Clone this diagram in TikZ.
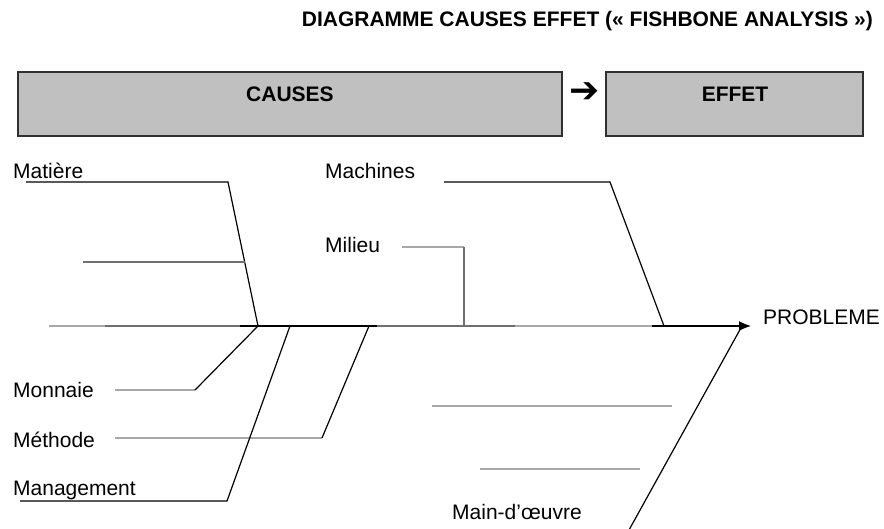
\documentclass[tikz,border=0pt]{standalone}
\usepackage{fontspec}
\setmainfont{Liberation Sans}
\newfontfamily\symfont{DejaVu Sans}
\usetikzlibrary{arrows.meta}
\definecolor{boxfill}{HTML}{C0C0C0}
\definecolor{boxline}{HTML}{303030}
\definecolor{lightln}{HTML}{A8A8A8}
\definecolor{midln}{HTML}{707070}
\tikzset{
  lbl/.style={inner sep=0pt, anchor=base west, font=\fontsize{21}{24}\selectfont},
  hdr/.style={inner sep=0pt, anchor=base, font=\fontsize{21}{24}\selectfont\bfseries},
  bone/.style={draw=black, line width=1.2pt},
  minor/.style={draw=lightln, line width=1.6pt},
  midbone/.style={draw=midln, line width=1.3pt},
  boxstyle/.style={draw=boxline, fill=boxfill, line width=2pt},
}
\begin{document}
\begin{tikzpicture}[x=1pt,y=-1pt]
\useasboundingbox (0,0) rectangle (884,529);
% title
\node[inner sep=0pt, anchor=base east, font=\fontsize{21}{24}\selectfont\bfseries] (title) at (873,27) {DIAGRAMME CAUSES EFFET (« FISHBONE ANALYSIS »)};
% header boxes
\draw[boxstyle] (18,72) rectangle (562,136);
\draw[boxstyle] (606,72) rectangle (863,136);
\node[hdr] (causes) at (290,102) {CAUSES};
\node[hdr] (effet) at (735,102) {EFFET};
\node[inner sep=0pt, anchor=center, font=\symfont\fontsize{36}{40}\selectfont\bfseries] (arr) at (585,93) {➔};
% spine coordinates
\coordinate (s0) at (49,326);
\coordinate (s1) at (105,326);
\coordinate (s2) at (240,326);
\coordinate (j1) at (258,326);
\coordinate (j2) at (290,326);
\coordinate (j3) at (369,326);
\coordinate (s3) at (377,326);
\coordinate (j4) at (464,326);
\coordinate (s4) at (515,326);
\coordinate (s5) at (652,326);
\coordinate (j5) at (664,326);
\coordinate (tip) at (751,326);
% spine
\draw[minor] (s0) -- (s1);
\draw[midbone] (s1) -- (s2);
\draw[bone] (s2) -- (s3);
\draw[midbone] (s3) -- (s4);
\draw[minor] (s4) -- (s5);
\draw[bone, -{Latex[length=12pt,width=10pt]}] (s5) -- (tip);
% labels
\node[lbl] (matiere) at (13,179) {Matière};
\node[lbl] (machines) at (325,179) {Machines};
\node[lbl] (milieu) at (325,253) {Milieu};
\node[lbl] (monnaie) at (13,397) {Monnaie};
\node[lbl] (methode) at (13,447) {Méthode};
\node[lbl] (management) at (13,495) {Management};
\node[lbl] (mainoeuvre) at (452,519) {Main-d’œuvre};
\node[lbl] (probleme) at (763,325) {PROBLEME};
% Matière
\coordinate (ma0) at (26,182);
\coordinate (ma1) at (228,182);
\coordinate (ma2) at (83,262);
\coordinate (ma3) at (244.7,262);
\draw[bone] (ma0) -- (ma1) -- (j1);
\draw[midbone] (ma2) -- (ma3);
% Machines
\coordinate (mc0) at (444,182);
\coordinate (mc1) at (610,182);
\draw[bone] (mc0) -- (mc1) -- (j5);
% Milieu
\coordinate (mi0) at (402,247);
\coordinate (mi1) at (464,247);
\draw[minor] (mi0) -- (mi1);
\draw[midbone] (mi1) -- (j4);
% Monnaie
\coordinate (mo0) at (115,390);
\coordinate (mo1) at (195,390);
\draw[minor] (mo0) -- (mo1);
\draw[bone] (mo1) -- (j1);
% Méthode
\coordinate (me0) at (115,438);
\coordinate (me1) at (322,438);
\draw[minor] (me0) -- (me1);
\draw[bone] (me1) -- (j3);
% Management
\coordinate (mg0) at (20,501);
\coordinate (mg1) at (227,501);
\draw[bone] (mg0) -- (mg1) -- (j2);
% Main-d'oeuvre
\coordinate (mw0) at (629,530);
\coordinate (mw1) at (742,326);
\draw[bone] (mw0) -- (mw1);
\coordinate (mw2) at (432,406);
\coordinate (mw3) at (672,406);
\coordinate (mw4) at (480,469);
\coordinate (mw5) at (640,469);
\draw[minor] (mw2) -- (mw3);
\draw[minor] (mw4) -- (mw5);
\end{tikzpicture}
\end{document}
